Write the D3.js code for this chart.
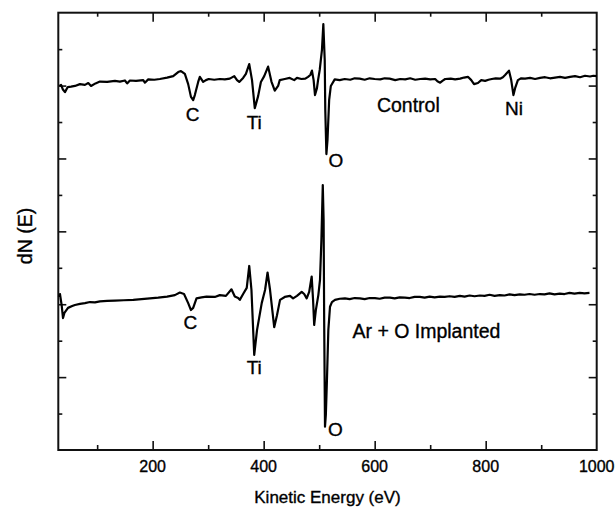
<!DOCTYPE html>
<html>
<head>
<meta charset="utf-8">
<script src="https://cdn.jsdelivr.net/npm/d3@7"></script>
<style>
  body { margin: 0; background: #fff; }
  svg text { font-family: "Liberation Sans", Arial, sans-serif; fill: #000; stroke: #000; stroke-width: 0.35; }
</style>
</head>
<body>
<div id="chart"></div>
<script>
// Kinetic energy (eV) and dN(E) values (arbitrary units)
const controlEnergy = [32, 35, 38, 42, 47, 53, 60, 69, 78, 84, 89, 97, 105, 118, 132, 141, 150, 154, 159, 170, 183, 186, 192, 203, 213, 226, 237, 246, 251, 258, 264, 269, 273, 276, 282, 285, 291, 296, 301, 311, 321, 330, 339, 347, 352, 356, 363, 368, 374, 379, 384, 390, 395, 401, 408, 414, 420, 426, 429, 438, 447, 455, 460, 468, 475, 480, 484, 487, 490, 492.5, 496, 498, 501, 505, 507.5, 510, 511, 513, 515, 518, 521, 528, 537, 546, 556, 564, 573, 582, 591, 600, 610, 618, 627, 637, 646, 655, 664, 673, 682, 691, 700, 709, 713, 718, 722, 727, 737, 745, 754, 761, 768, 774, 779, 786, 792, 799, 805, 811, 818, 826, 831, 835, 842, 846, 850, 853, 858, 864, 871, 880, 889, 898, 907, 916, 925, 934, 943, 952, 961, 970, 979, 988, 994, 1000];
const controlSignal = [9.99, 10.02, 9.9, 9.82, 9.96, 9.97, 9.99, 10.04, 10.02, 10.07, 9.99, 10.06, 10.11, 10.1, 10.13, 10.11, 10.14, 10.06, 10.14, 10.13, 10.15, 10.08, 10.17, 10.16, 10.18, 10.22, 10.26, 10.37, 10.4, 10.32, 10.04, 9.69, 9.6, 9.74, 10.1, 10.24, 10.1, 10.15, 10.18, 10.16, 10.18, 10.17, 10.19, 10.26, 10.15, 10.1, 10.21, 10.32, 10.59, 10.15, 9.38, 9.71, 10.1, 10.26, 10.52, 10.11, 9.86, 9.99, 10.15, 10.18, 10.21, 10.15, 10.21, 10.18, 10.19, 10.24, 10.29, 10.41, 10.15, 9.74, 9.93, 10.15, 10.43, 10.98, 11.69, 10.7, 9.33, 8.12, 8.51, 9.61, 9.99, 10.17, 10.15, 10.18, 10.16, 10.2, 10.19, 10.16, 10.2, 10.18, 10.17, 10.2, 10.19, 10.15, 10.18, 10.17, 10.2, 10.16, 10.18, 10.19, 10.17, 10.18, 10.12, 10.08, 10.13, 10.18, 10.19, 10.17, 10.19, 10.22, 10.24, 10.15, 10.04, 10.07, 10.15, 10.13, 10.16, 10.18, 10.2, 10.19, 10.23, 10.29, 10.41, 10.15, 9.74, 9.93, 10.15, 10.2, 10.19, 10.21, 10.18, 10.21, 10.23, 10.2, 10.22, 10.24, 10.21, 10.24, 10.26, 10.23, 10.27, 10.25, 10.27, 10.26];

const implantedEnergy = [31, 33, 36, 38.5, 41, 47.5, 55, 60, 69, 78, 87, 96, 105, 118, 132, 148, 165, 180, 195, 210, 226, 240, 249, 256.5, 264, 269, 273, 279, 288, 297, 312, 321, 332, 342, 348, 354, 357, 363, 369.5, 374, 378, 383, 388, 396.5, 402.5, 407, 411.5, 419, 424, 429.5, 438, 447.5, 453, 460, 468.5, 473, 477.5, 482, 486.5, 489, 491, 494, 498.5, 501.5, 504, 506.5, 508, 509, 510.5, 512, 514, 516.5, 519.5, 523, 528.5, 537, 546.5, 555, 564, 573.5, 582, 591, 600.5, 609, 618, 627.5, 636, 645, 654.5, 663, 672, 681.5, 690, 699, 708, 717.5, 726, 735, 744, 753.5, 762, 771, 780, 789.5, 798, 807, 816, 825.5, 834, 843, 852, 861.5, 870, 879, 888, 897.5, 906, 915, 924, 933.5, 942, 951, 960, 969.5, 978, 987, 994, 1000];
const implantedSignal = [4.2, 4.28, 3.98, 3.62, 3.76, 3.9, 3.95, 3.98, 4.01, 4.03, 4.06, 4.05, 4.08, 4.09, 4.1, 4.11, 4.12, 4.14, 4.16, 4.18, 4.21, 4.25, 4.32, 4.28, 4.03, 3.84, 3.9, 4.16, 4.19, 4.21, 4.2, 4.25, 4.23, 4.41, 4.21, 4.17, 4.12, 4.28, 4.45, 5.05, 4.39, 2.61, 3.29, 4.03, 4.39, 4.87, 4.39, 3.37, 3.7, 4.12, 4.2, 4.23, 4.16, 4.23, 4.34, 4.28, 4.16, 4.34, 4.76, 4.12, 3.43, 3.84, 4.25, 4.67, 5.76, 7.27, 6.31, 3.57, 0.64, 0.96, 1.92, 3.29, 3.93, 4.06, 4.12, 4.15, 4.16, 4.14, 4.17, 4.16, 4.14, 4.17, 4.17, 4.15, 4.18, 4.18, 4.16, 4.19, 4.18, 4.17, 4.2, 4.2, 4.18, 4.21, 4.19, 4.21, 4.2, 4.22, 4.2, 4.23, 4.21, 4.24, 4.22, 4.24, 4.23, 4.26, 4.23, 4.25, 4.24, 4.27, 4.25, 4.27, 4.26, 4.28, 4.26, 4.28, 4.27, 4.3, 4.27, 4.29, 4.28, 4.31, 4.29, 4.31, 4.3, 4.31];

const peakLabels = [
    { text: "C", energy: 272, value: 9.03 },
    { text: "Ti", energy: 383, value: 8.81 },
    { text: "O", energy: 530, value: 7.77 },
    { text: "Ni", energy: 851, value: 9.2 },
    { text: "C", energy: 268, value: 3.31 },
    { text: "Ti", energy: 383, value: 2.08 },
    { text: "O", energy: 529, value: 0.38 }
];
const seriesLabels = [
    { text: "Control", energy: 604, value: 9.28 },
    { text: "Ar + O Implanted", energy: 560, value: 3.07 }
];

const majorX = [200, 400, 600, 800, 1000];
const minorX = [100, 300, 500, 700, 900];
const majorY = [2, 4, 6, 8, 10];
const minorY = [1, 3, 5, 7, 9, 11];

const width = 616, height = 511;
const margin = { top: 12.7, right: 19.3, bottom: 61, left: 58.3 };

let svg = d3.select("#chart").append("svg")
    .attr("width", width)
    .attr("height", height);

const x = d3.scaleLinear().domain([30, 1000]).range([margin.left, width - margin.right]);
const y = d3.scaleLinear().domain([0, 12]).range([height - margin.bottom, margin.top]);

// ticks point inward on all four sides
const drawTicks = (axisFn, scale, values, size, transform) => {
    const g = svg.append("g")
        .attr("transform", transform)
        .call(axisFn(scale).tickValues(values).tickSize(size).tickFormat(""));
    g.select(".domain").remove();
    g.selectAll("line").attr("stroke", "#111").attr("stroke-width", 1.6);
    return g;
}

const bottomY = height - margin.bottom, rightX = width - margin.right;
drawTicks(d3.axisBottom, x, majorX.slice(0, 4), -9, `translate(0,${bottomY})`);
drawTicks(d3.axisBottom, x, minorX, -5, `translate(0,${bottomY})`);
drawTicks(d3.axisTop, x, majorX.slice(0, 4), -9, `translate(0,${margin.top})`);
drawTicks(d3.axisTop, x, minorX, -4, `translate(0,${margin.top})`);
drawTicks(d3.axisLeft, y, majorY, -8, `translate(${margin.left},0)`);
drawTicks(d3.axisLeft, y, minorY, -4, `translate(${margin.left},0)`);
drawTicks(d3.axisRight, y, majorY, -8, `translate(${rightX},0)`);
drawTicks(d3.axisRight, y, minorY, -4, `translate(${rightX},0)`);

// tick labels
svg.append("g")
    .selectAll("text")
    .data(majorX)
    .enter().append("text")
    .attr("x", d => x(d))
    .attr("y", bottomY + 22)
    .attr("text-anchor", "middle")
    .attr("font-size", 16)
    .text(d => d);

// frame
svg.append("rect")
    .attr("x", margin.left)
    .attr("y", margin.top)
    .attr("width", rightX - margin.left)
    .attr("height", bottomY - margin.top)
    .attr("fill", "none")
    .attr("stroke", "#111")
    .attr("stroke-width", 2);

const line = d3.line()
    .x(d => x(d[0]))
    .y(d => y(d[1]));

[[controlEnergy, controlSignal], [implantedEnergy, implantedSignal]].forEach(([e, s]) => {
    svg.append("path")
        .datum(e.map((v, i) => [v, s[i]]))
        .attr("d", line)
        .attr("fill", "none")
        .attr("stroke", "#000")
        .attr("stroke-width", 2.2)
        .attr("stroke-linejoin", "round");
});

svg.append("g")
    .selectAll("text")
    .data(peakLabels)
    .enter().append("text")
    .attr("x", d => x(d.energy))
    .attr("y", d => y(d.value))
    .attr("text-anchor", "middle")
    .attr("font-size", 19)
    .text(d => d.text);

svg.append("g")
    .selectAll("text")
    .data(seriesLabels)
    .enter().append("text")
    .attr("x", d => x(d.energy))
    .attr("y", d => y(d.value))
    .attr("font-size", 19.5)
    .text(d => d.text);

// axis titles
svg.append("text")
    .attr("x", (margin.left + rightX) / 2)
    .attr("y", 503)
    .attr("text-anchor", "middle")
    .attr("font-size", 17)
    .text("Kinetic Energy (eV)");

svg.append("text")
    .attr("transform", `translate(32,236) rotate(-90)`)
    .attr("text-anchor", "middle")
    .attr("font-size", 19.5)
    .text("dN (E)");
</script>
</body>
</html>
